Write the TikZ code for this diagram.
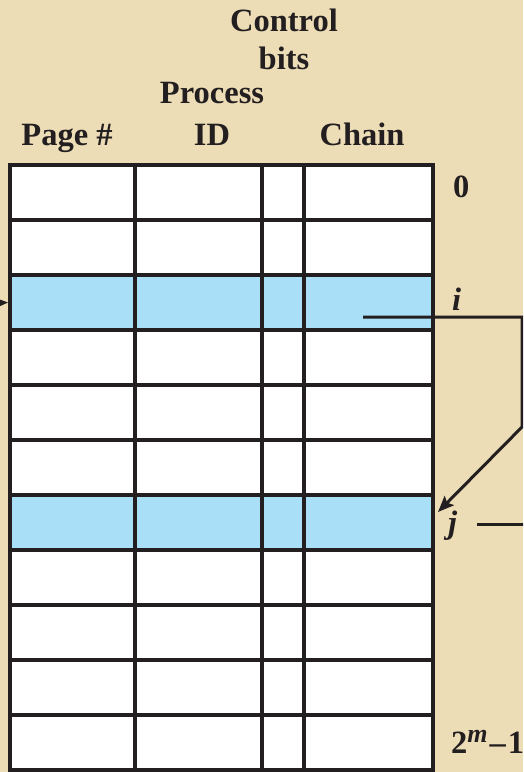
\documentclass[tikz,border=0pt]{standalone}
\usepackage{fontspec}
\setmainfont{Liberation Serif}
\usetikzlibrary{arrows.meta}
\definecolor{parch}{RGB}{237,221,182}
\definecolor{hiblue}{RGB}{170,223,248}
\definecolor{ink}{RGB}{35,31,32}

\begin{document}
\begin{tikzpicture}[
  x=1pt, y=-1pt,
  font=\fontsize{32.5}{38}\selectfont\bfseries,
  >={Stealth[length=16pt,width=13pt,inset=3pt]},
  hd/.style={anchor=base, inner sep=0pt, text=ink},
  lbl/.style={anchor=base west, inner sep=0pt, text=ink},
  rowbox/.style={draw=ink, line width=4pt, minimum width=423pt,
                 minimum height=55pt, inner sep=0pt},
  link/.style={draw=ink, line width=3pt},
]
\clip (0,0) rectangle (523,772);
\fill[parch] (0,0) rectangle (523,772);

% table rows, i and j highlighted
\foreach \k/\c in {0/white,1/white,2/hiblue,3/white,4/white,5/white,
                   6/hiblue,7/white,8/white,9/white,10/white}
  \node[rowbox, fill=\c] (row\k) at (221.5,{192.5+55*\k}) {};
\foreach \dx in {127,254,296}
  \draw[ink, line width=4pt] ([xshift=\dx pt]row0.north west)
    -- ([xshift=\dx pt]row10.south west);

% column headings
\node[hd] (ctl)   at (284,31)  {Control};
\node[hd] (bits)  at (284,69)  {bits};
\node[hd] (proc)  at (212,103) {Process};
\node[hd] (page)  at (67,145)  {Page \#};
\node[hd] (pid)   at (212,145) {ID};
\node[hd] (chain) at (362,145) {Chain};

% row labels
\node[lbl] (l0) at (453,197) {0};
\node[lbl] (li) at (452,310) {\itshape i};
\node[lbl] (lj) at (448,533) {\itshape j};
\node[lbl] (lm) at (451,753)
  {2\raisebox{11pt}{\fontsize{26}{26}\selectfont\itshape m}\kern2pt–\kern2pt1};

% chain links
\coordinate (ci)   at (363,317);
\coordinate (bend) at (522,427);
\coordinate (jtip) at (438,512);
\coordinate (inl)  at (-30,304);
\coordinate (jl)   at (477,524);
\coordinate (jout) at (540,524);
\draw[link,->] (ci) -| (bend) -- (jtip);
\draw[link,->] (inl) -- (row2.west);
\draw[link] (jl) -- (jout);
\end{tikzpicture}
\end{document}
